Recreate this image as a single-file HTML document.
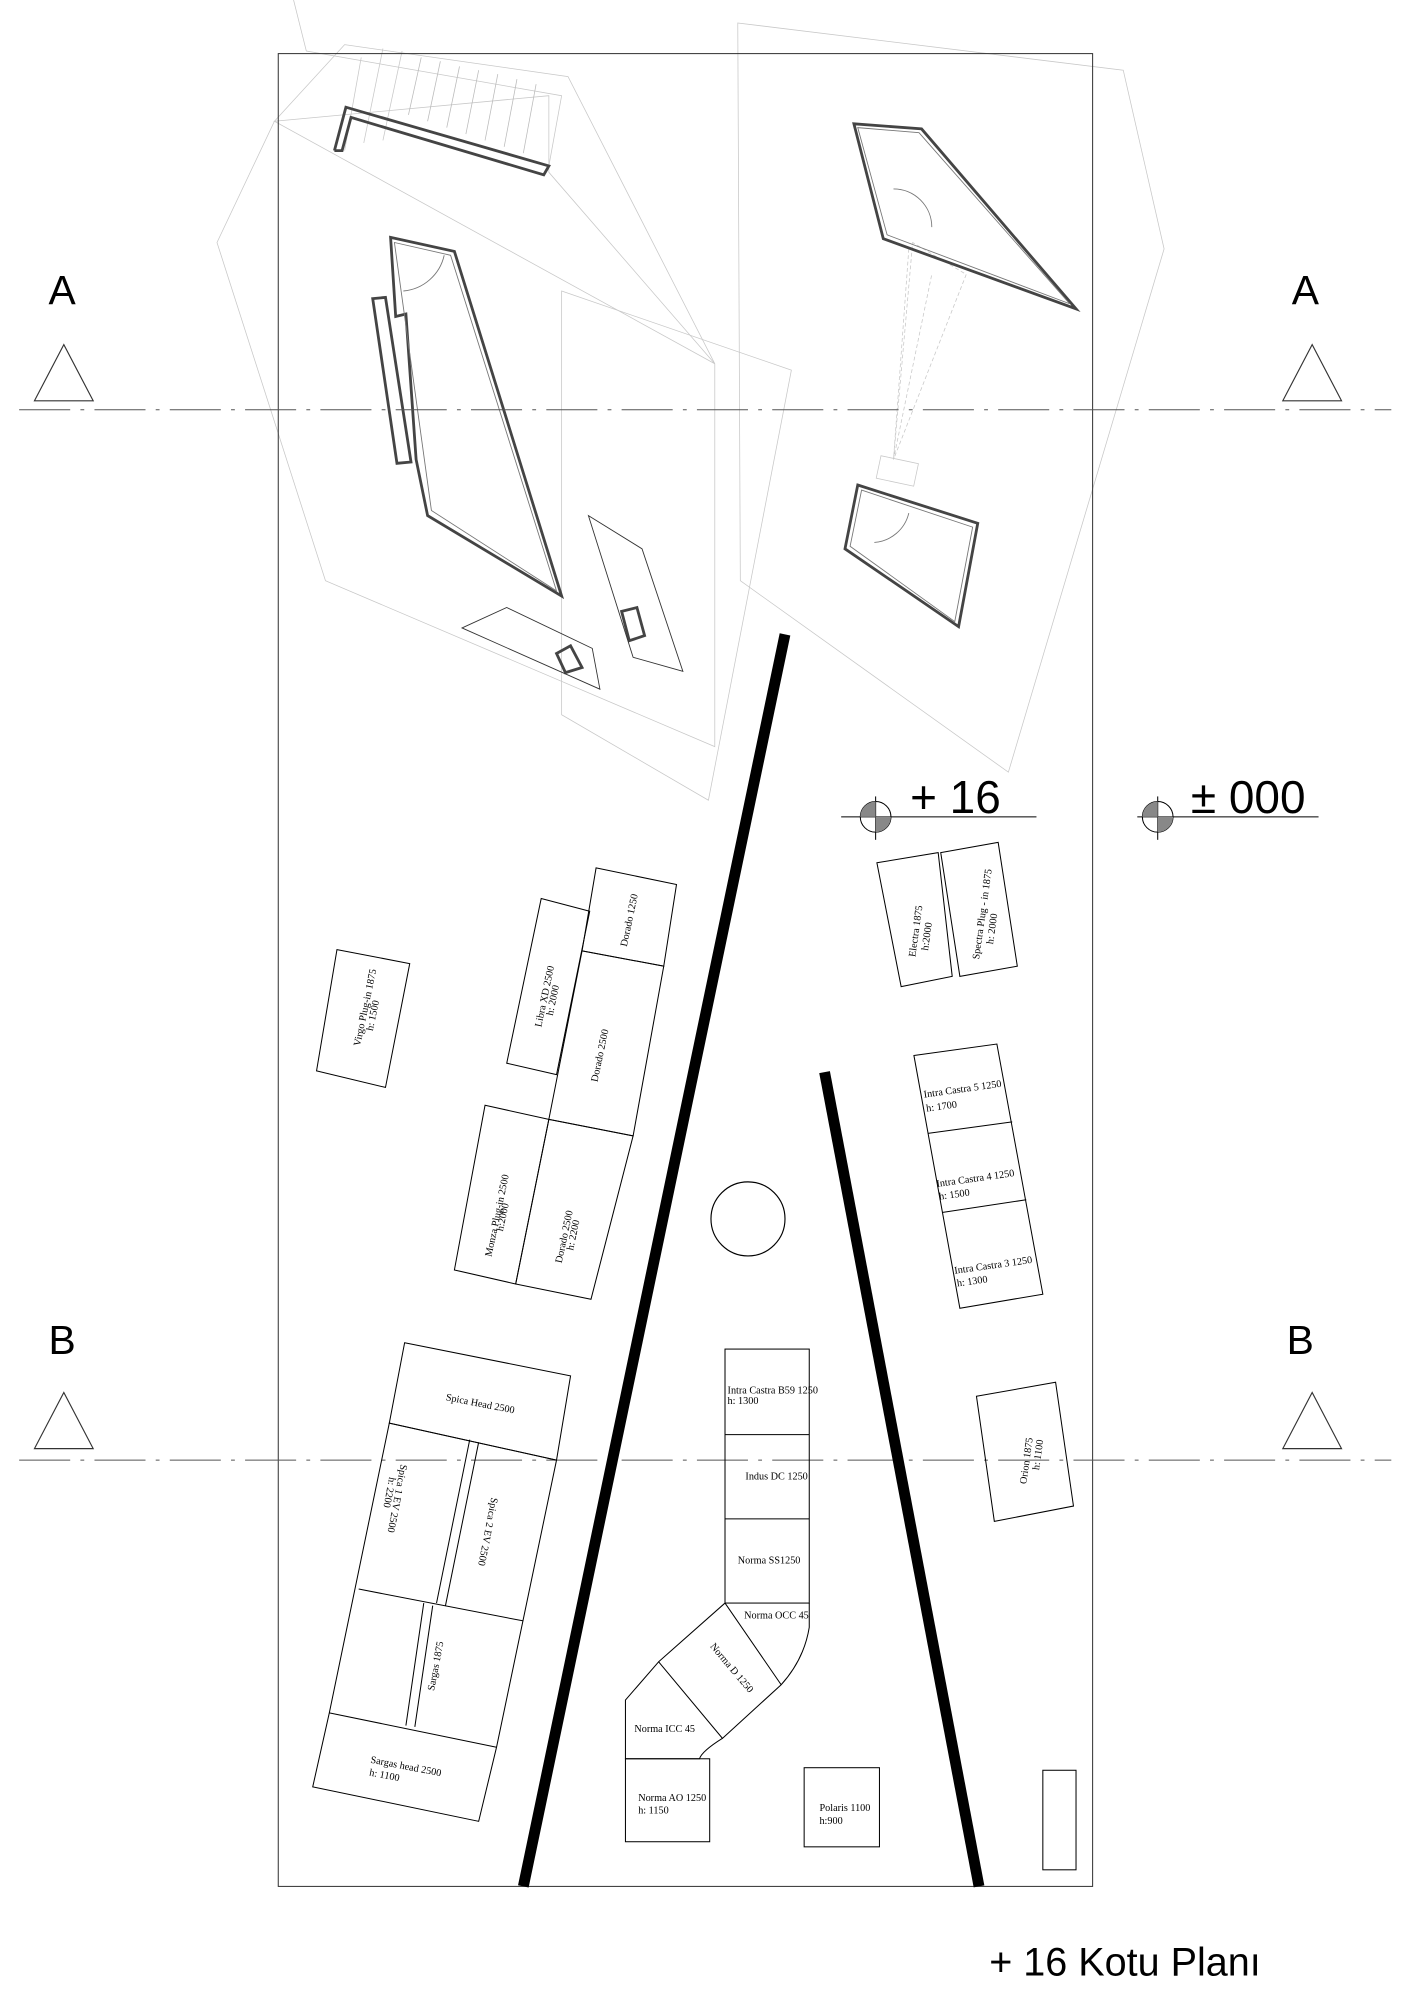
<!DOCTYPE html>
<html><head><meta charset="utf-8"><style>
html,body{margin:0;padding:0;background:#fff;}
svg{display:block;}
.t{font-family:"Liberation Serif",serif;font-size:8px;fill:#000;}
.s{font-family:"Liberation Sans",sans-serif;fill:#000;}
</style></head><body>
<svg width="1413" height="2000" viewBox="0 0 1107 1567" preserveAspectRatio="none" xmlns="http://www.w3.org/2000/svg">
<rect width="1107" height="1567" fill="#fff"/>
<g fill="none" stroke="#c8c8c8" stroke-width="0.6">
<polygon points="215,95 270,35 445,60 560,285 560,585 255,455 170,190"/>
<polygon points="440,228 620,290 555,627 440,560"/>
<polygon points="578,18 880,55 912,195 790,605 580,455"/>
<polygon points="215,95 430,75 430,135 560,285"/>
<line x1="283" y1="45" x2="270" y2="118"/><line x1="300" y1="38" x2="285" y2="112"/>
<line x1="315" y1="40" x2="300" y2="110"/>
<polyline points="230,0 240,40 440,75 430,130"/>
<g stroke="#bbb">
<line x1="330" y1="45" x2="320" y2="90"/><line x1="345" y1="48" x2="335" y2="95"/>
<line x1="360" y1="52" x2="350" y2="100"/><line x1="375" y1="55" x2="365" y2="105"/>
<line x1="390" y1="58" x2="380" y2="110"/><line x1="405" y1="62" x2="395" y2="115"/>
<line x1="420" y1="66" x2="410" y2="120"/>
</g>
<polyline points="712,195 700,360 715,190 757,215 700,360 730,215" stroke-dasharray="3,2"/>
<rect x="688" y="360" width="30" height="18" transform="rotate(12 703 369)"/>
</g>
<rect x="218" y="42" width="638" height="1436" fill="none" stroke="#333" stroke-width="0.8"/>
<g fill="none" stroke="#444" stroke-width="2.2">
<polyline points="262,118 271,84 430,130 426,137 275,92 268,118 262,118"/>
<polygon points="306,186 356,197 440,467 335,404 326,360 318,246 310,248"/>
<polygon points="292,234 302,233 322,362 311,363"/>
<polygon points="669,97 722,101 843,242 692,187"/>
<polygon points="672,380 766,410 751,491 662,430"/>
<polygon points="487,479 499,476 505,498 493,502"/>
<polygon points="436,512 447,506 456,523 443,527"/>
</g>
<g fill="none" stroke="#777" stroke-width="0.7">
<polygon points="309,190 353,200 436,463 338,400"/>
<polygon points="672,100 720,104 838,238 695,184"/>
<polygon points="675,384 762,413 748,487 666,428"/>
<path d="M316,228 A36,36 0 0 0 348,200"/>
<path d="M700,148 A30,30 0 0 1 730,178"/>
<path d="M685,425 A30,30 0 0 0 712,402"/>
</g>
<g fill="none" stroke="#333" stroke-width="0.7">
<polygon points="461,404 503,430 535,526 496,515"/>
<polygon points="362,492 397,476 464,508 470,540"/>
</g>
<g stroke="#555" stroke-width="0.8" stroke-dasharray="40,8,3,8" fill="none">
<line x1="15" y1="321" x2="1090" y2="321"/>
<line x1="15" y1="1144" x2="1090" y2="1144"/>
</g>
<g fill="none" stroke="#333" stroke-width="0.9">
<polygon points="50,270 27,314 73,314"/><polygon points="1028,270 1005,314 1051,314"/>
<polygon points="50,1091 27,1135 73,1135"/><polygon points="1028,1091 1005,1135 1051,1135"/>
</g>
<g class="s" font-size="32">
<text x="38" y="238">A</text><text x="1012" y="238">A</text>
<text x="38" y="1061">B</text><text x="1008" y="1061">B</text>
</g>
<line x1="615" y1="497" x2="410" y2="1478" stroke="#000" stroke-width="8.5"/>
<line x1="646" y1="840" x2="767" y2="1478" stroke="#000" stroke-width="8.5"/>
<circle cx="586" cy="955" r="29" fill="none" stroke="#000" stroke-width="0.9"/>
<g stroke="#000" stroke-width="0.8" fill="none">
<circle cx="686" cy="640" r="12"/><line x1="686" y1="624" x2="686" y2="658"/><line x1="659" y1="640" x2="812" y2="640"/>
<circle cx="907" cy="640" r="12"/><line x1="907" y1="624" x2="907" y2="658"/><line x1="891" y1="640" x2="1033" y2="640"/>
</g>
<path d="M686,640 L674,640 A12,12 0 0 1 686,628 Z M686,640 L698,640 A12,12 0 0 1 686,652 Z" fill="#888"/>
<path d="M907,640 L895,640 A12,12 0 0 1 907,628 Z M907,640 L919,640 A12,12 0 0 1 907,652 Z" fill="#888"/>
<text class="s" x="713" y="637" font-size="36">+ 16</text>
<text class="s" x="933" y="637" font-size="36">± 000</text>
<text class="s" x="775" y="1548" font-size="31">+ 16 Kotu Planı</text>
<g fill="none" stroke="#000" stroke-width="0.8">
<polygon points="687,676 735,668 746,765 706,773"/>
<polygon points="737,668 782,660 797,757 752,765"/>
<polygon points="264,744 321,755 302,852 248,839"/>
<polygon points="424,704 462,714 436,842 397,833"/>
<polygon points="467,680 530,693 520,757 456,745"/>
<polygon points="456,745 520,757 496,890 430,877"/>
<polygon points="380,866 430,877 404,1006 356,995"/>
<polygon points="430,877 496,890 463,1018 404,1006"/>
<polygon points="317,1052 447,1078 436,1144 305,1115"/>
<polygon points="305,1115 436,1144 389,1369 375,1427 245,1400 258,1342"/>
<line x1="281" y1="1245" x2="410" y2="1270"/>
<line x1="258" y1="1342" x2="389" y2="1369"/>
<line x1="368" y1="1128" x2="342" y2="1256"/><line x1="375" y1="1130" x2="349" y2="1258"/>
<line x1="332" y1="1256" x2="318" y2="1352"/><line x1="339" y1="1258" x2="325" y2="1353"/>
<polygon points="716,827 781,818 817,1014 752,1025"/>
<line x1="727" y1="888" x2="793" y2="879"/><line x1="738" y1="950" x2="804" y2="940"/>
<polygon points="765,1094 827,1083 841,1180 779,1192"/>
<rect x="568" y="1057" width="66" height="199"/>
<line x1="568" y1="1124" x2="634" y2="1124"/><line x1="568" y1="1190" x2="634" y2="1190"/>
<path d="M568,1256 L612,1320 M634,1256 L634,1275 Q630,1300 612,1320 L566,1362 L516,1302 L568,1256"/>
<path d="M516,1302 L490,1332 L490,1378 L548,1378 Q550,1372 566,1362"/>
<rect x="490" y="1378" width="66" height="65"/>
<rect x="630" y="1385" width="59" height="62"/>
<rect x="817" y="1387" width="26" height="78"/>
</g>
<g class="t">
<text transform="translate(717,750) rotate(-82)">Electra 1875</text>
<text transform="translate(727,745) rotate(-82)">h:2000</text>
<text transform="translate(767,752) rotate(-82)">Spectra Plug - in 1875</text>
<text transform="translate(778,740) rotate(-82)">h: 2000</text>
<text transform="translate(282,820) rotate(-78)">Virgo Plug-in 1875</text>
<text transform="translate(292,808) rotate(-78)">h: 1500</text>
<text transform="translate(424,805) rotate(-78)">Libra XD 2500</text>
<text transform="translate(433,796) rotate(-78)">h: 2000</text>
<text transform="translate(491,742) rotate(-78)">Dorado 1250</text>
<text transform="translate(468,848) rotate(-78)">Dorado 2500</text>
<text transform="translate(385,985) rotate(-78)">Monza Plug-in 2500</text>
<text transform="translate(394,965) rotate(-78)">h:2000</text>
<text transform="translate(440,990) rotate(-78)">Dorado 2500</text>
<text transform="translate(449,980) rotate(-78)">h: 2200</text>
<text transform="translate(349,1097) rotate(11)">Spica Head 2500</text>
<text transform="translate(314,1147) rotate(101)">Spica 1 EV 2500</text>
<text transform="translate(305,1157) rotate(101)">h: 2200</text>
<text transform="translate(385,1173) rotate(101)">Spica 2 EV 2500</text>
<text transform="translate(340,1325) rotate(-79)">Sargas 1875</text>
<text transform="translate(290,1381) rotate(11)">Sargas head 2500</text>
<text transform="translate(289,1391) rotate(11)">h: 1100</text>
<text transform="translate(724,860) rotate(-8)">Intra Castra 5 1250</text>
<text transform="translate(726,871) rotate(-8)">h: 1700</text>
<text transform="translate(734,930) rotate(-8)">Intra Castra 4 1250</text>
<text transform="translate(736,940) rotate(-8)">h: 1500</text>
<text transform="translate(748,998) rotate(-8)">Intra Castra 3 1250</text>
<text transform="translate(750,1008) rotate(-8)">h: 1300</text>
<text transform="translate(804,1163) rotate(-82)">Orion 1875</text>
<text transform="translate(814,1152) rotate(-82)">h: 1100</text>
<text x="570" y="1092">Intra Castra B59 1250</text>
<text x="570" y="1100">h: 1300</text>
<text x="584" y="1159">Indus DC 1250</text>
<text x="578" y="1225">Norma SS1250</text>
<text x="583" y="1268">Norma OCC 45</text>
<text transform="translate(556,1290) rotate(50)">Norma D 1250</text>
<text x="497" y="1357">Norma ICC 45</text>
<text x="500" y="1411">Norma AO 1250</text>
<text x="500" y="1421">h: 1150</text>
<text x="642" y="1419">Polaris 1100</text>
<text x="642" y="1429">h:900</text>
</g>
</svg>
</body></html>
